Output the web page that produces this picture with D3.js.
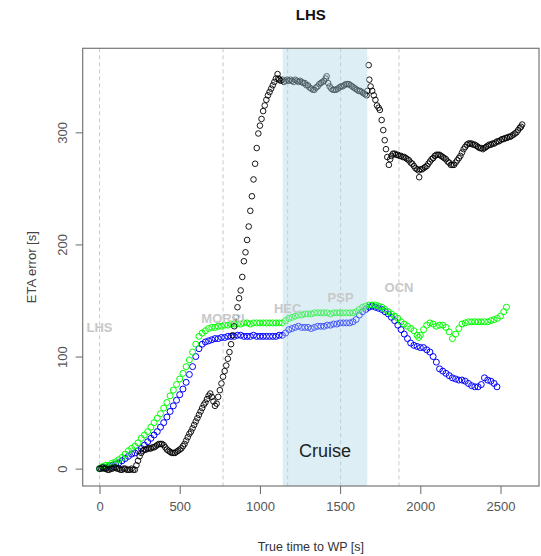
<!DOCTYPE html>
<html>
<head>
<meta charset="utf-8">
<script src="https://cdn.jsdelivr.net/npm/d3@7"></script>
<style>
  body { margin: 0; background: #fff; }
  text { font-family: "Liberation Sans", Arial, sans-serif; }
</style>
</head>
<body>
<svg id="graph1"></svg>
<script>
// waypoints (true time to WP) and label heights
var wpNames = ["LHS", "MORRI", "HEC", "PSP", "OCN"];
var wpTimes = [0, 770, 1173, 1503, 1867];
var wpLabelY = [126, 134, 143, 153, 162];

var cruise = [1142, 1669];

var xTicks = [0, 500, 1000, 1500, 2000, 2500];
var yTicks = [0, 100, 200, 300];

// [time, ETA error]
var blackPts = [[0,0],[10,0],[20,1],[30,0],[40,0],[50,-1],[60,-1],[70,0],[80,0],[90,1],[100,1],[110,0],[120,0],
  [130,-1],[140,-1],[150,0],[160,0],[170,-1],[180,-1],[190,-1],[200,0],[210,-1],[220,-1],
  [230,3],[240,7],[250,11],[260,14],[270,16],[280,17],[290,17],[300,18],[310,18],[320,18],[330,19],[340,19],
  [350,20],[360,21],[370,22],[380,22],[390,22],[400,21],[410,19],[420,17],[430,16],[440,15],[450,14],[460,14],
  [470,14],[480,15],[490,16],[500,17],[510,18],[520,20],[530,22],[540,25],[550,28],[560,31],[570,33],[580,36],
  [590,39],[600,42],[610,45],[620,48],[630,51],[640,54],[650,57],[660,59],[670,62],[680,65],[690,67],
  [700,64],[710,60],[720,56],[730,58],[740,64],[750,70],[760,76],[770,82],
  [780,87],[790,92],[800,98],[810,104],[820,111],[830,119],[840,127],[850,135],[860,144],[870,152],[880,159],
  [890,171],[900,185],[910,193],[920,204],[930,216],[940,230],[950,243],[960,258],[970,272],[980,286],[990,299],
  [1000,306],[1010,312],[1020,319],[1030,324],[1040,329],[1050,333],[1060,336],[1070,339],[1080,342],[1090,345],
  [1100,348],[1110,352],[1115,348],[1120,347],[1130,346],[1140,347],[1150,345],[1160,346],[1170,347],[1180,346],
  [1190,347],[1200,346],[1210,345],[1220,347],[1230,346],[1240,345],[1250,346],[1260,345],[1270,344],[1280,344],
  [1290,342],[1300,342],[1310,340],[1320,339],[1330,338],[1340,338],[1350,340],[1360,341],[1370,343],[1380,344],
  [1390,345],[1400,346],[1410,348],[1416,350],[1425,344],[1435,341],[1445,339],[1455,338],[1465,338],[1475,338],
  [1485,339],[1495,340],[1505,341],[1515,341],[1525,342],[1535,343],[1545,343],[1555,343],[1565,342],[1575,341],
  [1585,340],[1595,339],[1605,338],[1615,337],[1625,337],[1635,336],[1645,335],[1655,334],[1665,333],
  [1670,337],[1678,360],[1682,347],[1690,341],[1700,337],[1710,333],[1720,329],[1730,324],
  [1740,322],[1748,320],[1759,311],[1769,302],[1778,293],[1786,285],[1794,278],[1804,271],[1812,276],[1820,279],
  [1830,281],[1840,281],[1850,280],[1860,280],[1870,279],[1880,279],[1890,278],[1900,278],[1910,277],[1920,276],
  [1930,275],[1940,273],[1950,272],[1960,270],[1970,268],[1980,267],[1990,266],[1993,260],[2000,267],[2010,267],
  [2020,268],[2030,269],[2040,270],[2050,272],[2060,274],[2070,276],[2080,277],[2090,279],[2100,280],[2110,280],
  [2120,280],[2130,279],[2140,278],[2150,277],[2160,276],[2170,274],[2180,273],[2190,271],[2200,271],[2210,271],
  [2220,273],[2230,275],[2240,277],[2250,279],[2260,282],[2270,285],[2280,287],[2290,289],[2300,290],[2310,290],
  [2320,290],[2330,289],[2340,289],[2350,288],[2360,287],[2370,286],[2380,286],[2390,285],[2400,286],[2410,287],
  [2420,288],[2430,289],[2440,289],[2450,290],[2460,290],[2470,291],[2480,292],[2490,292],[2500,293],[2510,294],
  [2520,294],[2530,295],[2540,295],[2550,296],[2560,296],[2570,297],[2580,298],[2590,299],[2600,300],[2610,302],
  [2620,304],[2628,305],[2635,307]];

var bluePts = [[0,0],[20,1],[40,1],[60,2],[80,3],[100,4],[120,5],[140,7],[160,9],[180,11],[200,13],[220,14],
  [240,16],[260,18],[280,21],[300,24],[320,27],[340,30],[360,33],[380,37],[400,41],[420,46],[440,51],[460,56],
  [480,61],[500,66],[520,71],[540,77],[560,84],[580,91],[600,100],[620,107],[640,111],[660,113],[680,114],
  [700,115],[720,116],[740,116],[760,117],[780,117],[800,118],[820,118],[840,118],[860,119],[880,119],[900,118],
  [920,118],[940,118],[960,119],[980,118],[1000,118],[1020,118],[1040,118],[1060,118],[1080,118],[1100,118],
  [1120,119],[1140,119],[1160,121],[1180,124],[1200,125],[1220,126],[1240,127],[1260,126],[1280,126],[1300,126],
  [1320,125],[1340,126],[1360,127],[1380,127],[1400,127],[1420,128],[1440,128],[1460,129],[1480,129],[1500,130],
  [1520,130],[1540,130],[1560,130],[1580,131],[1600,133],[1620,137],[1640,140],[1660,142],[1680,144],[1700,145],
  [1720,144],[1740,143],[1760,142],[1780,140],[1800,138],[1820,135],[1840,132],[1860,128],[1880,124],[1900,120],
  [1920,116],[1940,112],[1960,110],[1980,109],[2000,108],[2020,108],[2040,106],[2060,104],[2080,100],[2100,95],
  [2120,89],[2140,87],[2160,85],[2180,83],[2200,81],[2220,80],[2240,79],[2260,79],[2280,78],[2300,76],[2320,74],
  [2340,73],[2360,73],[2380,75],[2400,81],[2420,79],[2440,78],[2460,76],[2478,73]];

var greenPts = [[0,0],[20,2],[40,3],[60,3],[80,5],[100,6],[120,8],[140,10],[160,13],[180,16],[200,18],[220,20],
  [240,23],[260,27],[280,30],[300,33],[320,37],[340,41],[360,45],[380,49],[400,54],[420,59],[440,65],[460,70],
  [480,75],[500,80],[520,85],[540,91],[560,97],[580,104],[600,111],[620,118],[640,121],[660,123],[680,125],
  [700,126],[720,126],[740,127],[760,127],[780,128],[800,128],[820,129],[840,129],[860,129],[880,129],[900,130],
  [920,130],[940,129],[960,130],[980,130],[1000,130],[1020,130],[1040,130],[1060,130],[1080,130],[1100,130],
  [1120,130],[1140,130],[1160,132],[1180,134],[1200,135],[1220,136],[1240,137],[1260,137],[1280,138],[1300,138],
  [1320,138],[1340,139],[1360,139],[1380,139],[1400,139],[1420,139],[1440,138],[1460,139],[1480,139],[1500,139],
  [1520,139],[1540,139],[1560,139],[1580,139],[1600,140],[1620,142],[1640,144],[1660,145],[1680,146],[1700,146],
  [1720,146],[1740,145],[1760,144],[1780,142],[1800,140],[1820,138],[1840,136],[1860,134],[1880,131],[1900,129],
  [1920,127],[1940,125],[1960,123],[1980,119],[1990,117],[2000,119],[2020,124],[2040,128],[2060,130],[2080,129],
  [2100,127],[2120,128],[2140,128],[2160,126],[2180,122],[2200,116],[2220,120],[2240,125],[2260,129],[2280,130],
  [2300,131],[2320,131],[2340,131],[2360,131],[2380,131],[2400,131],[2420,131],[2440,132],[2460,133],[2480,134],
  [2500,136],[2520,140],[2537,144]];

var width = 541, height = 556;
var plot = {left: 82.7, right: 539, top: 48.3, bottom: 486};

var svg = d3.select("#graph1")
  .attr("width", width)
  .attr("height", height);

var xScale = d3.scaleLinear()
  .domain([-105, 2740])
  .range([plot.left, plot.right]);

var yScale = d3.scaleLinear()
  .domain([-15.5, 375])
  .range([plot.bottom, plot.top]);

// waypoint dashed lines
svg.selectAll(".wpline")
  .data(wpTimes)
  .enter()
  .append("line")
  .attr("class", "wpline")
  .attr("x1", function(d){return xScale(d);})
  .attr("x2", function(d){return xScale(d);})
  .attr("y1", plot.top)
  .attr("y2", plot.bottom)
  .attr("stroke", "#bbb")
  .attr("stroke-width", 0.8)
  .attr("stroke-dasharray", "4,3");

var drawPoints = function(pts, colour, r, sw)
{
  svg.append("g")
    .selectAll("circle")
    .data(pts)
    .enter()
    .append("circle")
    .attr("cx", function(d){return xScale(d[0]);})
    .attr("cy", function(d){return yScale(d[1]);})
    .attr("r", r)
    .attr("fill", "none")
    .attr("stroke", colour)
    .attr("stroke-width", sw);
}

drawPoints(bluePts, "#0000ff", 3, 1);
drawPoints(greenPts, "#00ff00", 3, 1);
drawPoints(blackPts, "#000", 2.8, 0.9);

// cruise shading over the points
svg.append("rect")
  .attr("x", xScale(cruise[0]))
  .attr("y", plot.top)
  .attr("width", xScale(cruise[1]) - xScale(cruise[0]))
  .attr("height", plot.bottom - plot.top)
  .attr("fill", "#add8e6")
  .attr("fill-opacity", 0.42);

svg.append("text")
  .attr("x", xScale((cruise[0] + cruise[1]) / 2))
  .attr("y", yScale(16))
  .attr("dy", "0.35em")
  .attr("text-anchor", "middle")
  .attr("font-size", "18px")
  .attr("fill", "#222")
  .text("Cruise");

// waypoint names
svg.selectAll(".wplabel")
  .data(wpNames)
  .enter()
  .append("text")
  .attr("class", "wplabel")
  .attr("x", function(d,i){return xScale(wpTimes[i]);})
  .attr("y", function(d,i){return yScale(wpLabelY[i]);})
  .attr("dy", "0.35em")
  .attr("text-anchor", "middle")
  .attr("font-size", "13px")
  .attr("font-weight", "bold")
  .attr("fill", "#c8c8c8")
  .text(function(d){return d;});

// axes
var xAxis = d3.axisBottom(xScale).tickValues(xTicks).tickSize(8).tickPadding(8).tickFormat(d3.format("d"));
var yAxis = d3.axisLeft(yScale).tickValues(yTicks).tickSize(7).tickPadding(9).tickFormat(d3.format("d"));

var gx = svg.append("g")
  .attr("transform", "translate(0," + plot.bottom + ")")
  .call(xAxis);
gx.select(".domain").remove();
gx.selectAll("line").attr("stroke", "#666");
gx.selectAll("text").attr("font-size", "13px").attr("fill", "#555").attr("font-family", "Liberation Sans, Arial, sans-serif");

var gy = svg.append("g")
  .attr("transform", "translate(" + plot.left + ",0)")
  .call(yAxis);
gy.select(".domain").remove();
gy.selectAll("line").attr("stroke", "#666");
gy.selectAll("text")
  .attr("font-size", "13px")
  .attr("fill", "#555")
  .attr("font-family", "Liberation Sans, Arial, sans-serif")
  .attr("text-anchor", "middle")
  .attr("x", null)
  .attr("dy", null)
  .attr("transform", "translate(-16,0) rotate(-90)");

// box
svg.append("rect")
  .attr("x", plot.left)
  .attr("y", plot.top)
  .attr("width", plot.right - plot.left)
  .attr("height", plot.bottom - plot.top)
  .attr("fill", "none")
  .attr("stroke", "#777")
  .attr("stroke-width", 1.2);

// titles
svg.append("text")
  .attr("x", (plot.left + plot.right) / 2)
  .attr("y", 20)
  .attr("text-anchor", "middle")
  .attr("font-size", "15px")
  .attr("font-weight", "bold")
  .attr("fill", "#111")
  .text("LHS");

svg.append("text")
  .attr("x", (plot.left + plot.right) / 2)
  .attr("y", 551)
  .attr("text-anchor", "middle")
  .attr("font-size", "12.5px")
  .attr("fill", "#333")
  .text("True time to WP [s]");

svg.append("text")
  .attr("transform", "translate(36," + ((plot.top + plot.bottom) / 2) + ") rotate(-90)")
  .attr("text-anchor", "middle")
  .attr("font-size", "13px")
  .attr("fill", "#444")
  .text("ETA error [s]");
</script>
</body>
</html>
